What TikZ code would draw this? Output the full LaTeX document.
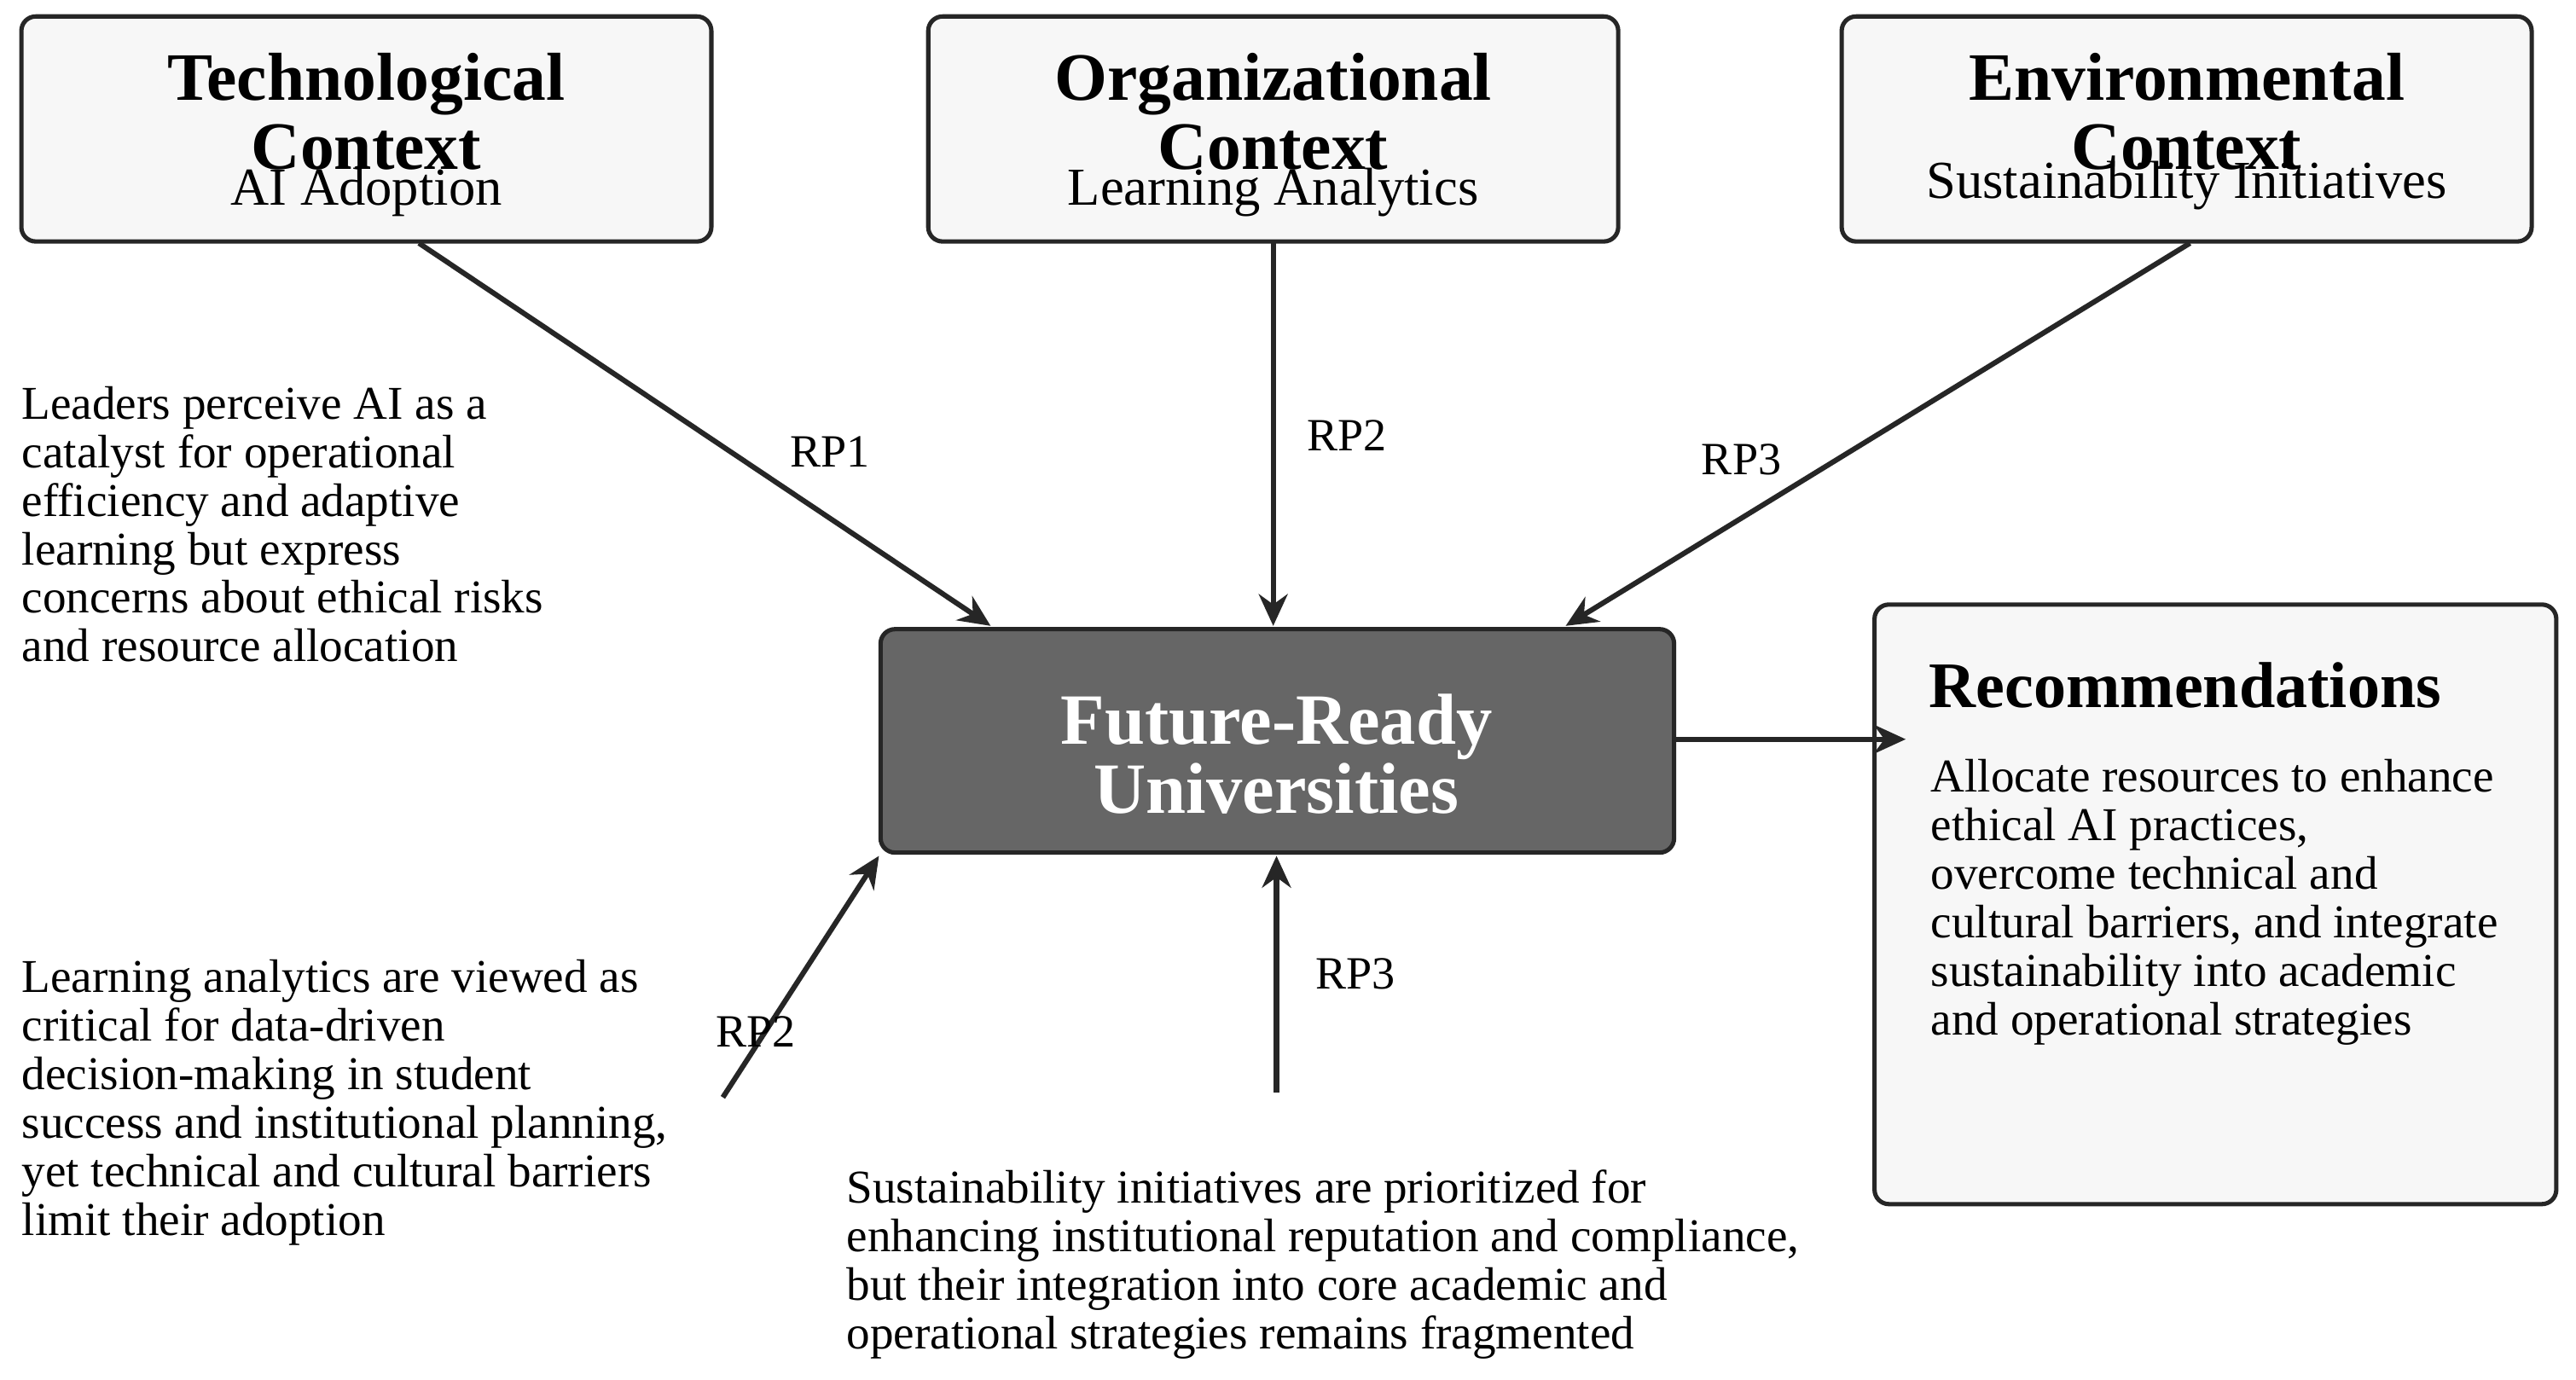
\documentclass[tikz,border=0pt]{standalone}
\usepackage{fontspec}
\setmainfont{Liberation Serif}
\usetikzlibrary{arrows.meta}
\begin{document}
\begin{tikzpicture}[x=0.02cm,y=-0.02cm,
  box/.style={draw=black!85,line width=1.5pt,rounded corners=5pt,fill=black!3},
  arr/.style={line width=1.8pt,draw=black!85,-{Stealth[length=11pt,width=10pt]}},
  ttl/.style={font=\fontsize{23.5}{24}\selectfont\bfseries,align=center},
  sub/.style={font=\fontsize{18.5}{20}\selectfont},
  body/.style={font=\fontsize{16.3}{16.8}\selectfont,align=left,anchor=north west,inner sep=0pt},
  lab/.style={font=\fontsize{16}{17}\selectfont}]
\useasboundingbox (0,0) rectangle (1568,840);
\draw[box] (13,10) rectangle (433,147);
\draw[box] (565,10) rectangle (985,147);
\draw[box] (1121,10) rectangle (1541,147);
\node[ttl] (t1) at (223,68) {Technological\\Context};
\node[sub] (s1) at (223,117) {AI Adoption};
\node[ttl] (t2) at (775,68) {Organizational\\Context};
\node[sub] (s2) at (775,117) {Learning Analytics};
\node[ttl] (t3) at (1331,68) {Environmental\\Context};
\node[sub] (s3) at (1331,113) {Sustainability Initiatives};
\draw[box,fill=black!60] (536,383) rectangle (1019,519);
\node[font=\fontsize{25}{24}\selectfont\bfseries,align=center,text=white] (c) at (777,459) {Future-Ready\\Universities};
\draw[box] (1141,368) rectangle (1556,733);
\node[font=\fontsize{22.5}{24}\selectfont\bfseries,anchor=west] (r) at (1168,417) {Recommendations};
\node[body] (rb) at (1175,462) {Allocate resources to enhance\\ethical AI practices,\\overcome technical and\\cultural barriers, and integrate\\sustainability into academic\\and operational strategies};
\coordinate (a1) at (255,148); \coordinate (b1) at (603,381);
\coordinate (a2) at (775,148); \coordinate (b2) at (775,381);
\coordinate (a3) at (1333,148); \coordinate (b3) at (953,381);
\coordinate (a4) at (1019,450); \coordinate (b4) at (1160,450);
\coordinate (a5) at (440,668); \coordinate (b5) at (535,521);
\coordinate (a6) at (777,665); \coordinate (b6) at (777,521);
\draw[arr] (a1)--(b1); \draw[arr] (a2)--(b2); \draw[arr] (a3)--(b3);
\draw[arr] (a4)--(b4); \draw[arr] (a5)--(b5); \draw[arr] (a6)--(b6);
\node[lab] (l1) at (505,275) {RP1};
\node[lab] (l2) at (820,265) {RP2};
\node[lab] (l3) at (1060,280) {RP3};
\node[lab] (l4) at (460,628) {RP2};
\node[lab] (l5) at (825,593) {RP3};
\node[body] (p1) at (13,235) {Leaders perceive AI as a\\catalyst for operational\\efficiency and adaptive\\learning but express\\concerns about ethical risks\\and resource allocation};
\node[body] (p2) at (13,584) {Learning analytics are viewed as\\critical for data-driven\\decision-making in student\\success and institutional planning,\\yet technical and cultural barriers\\limit their adoption};
\node[body] (p3) at (515,712) {Sustainability initiatives are prioritized for\\enhancing institutional reputation and compliance,\\but their integration into core academic and\\operational strategies remains fragmented};
\end{tikzpicture}
\end{document}
